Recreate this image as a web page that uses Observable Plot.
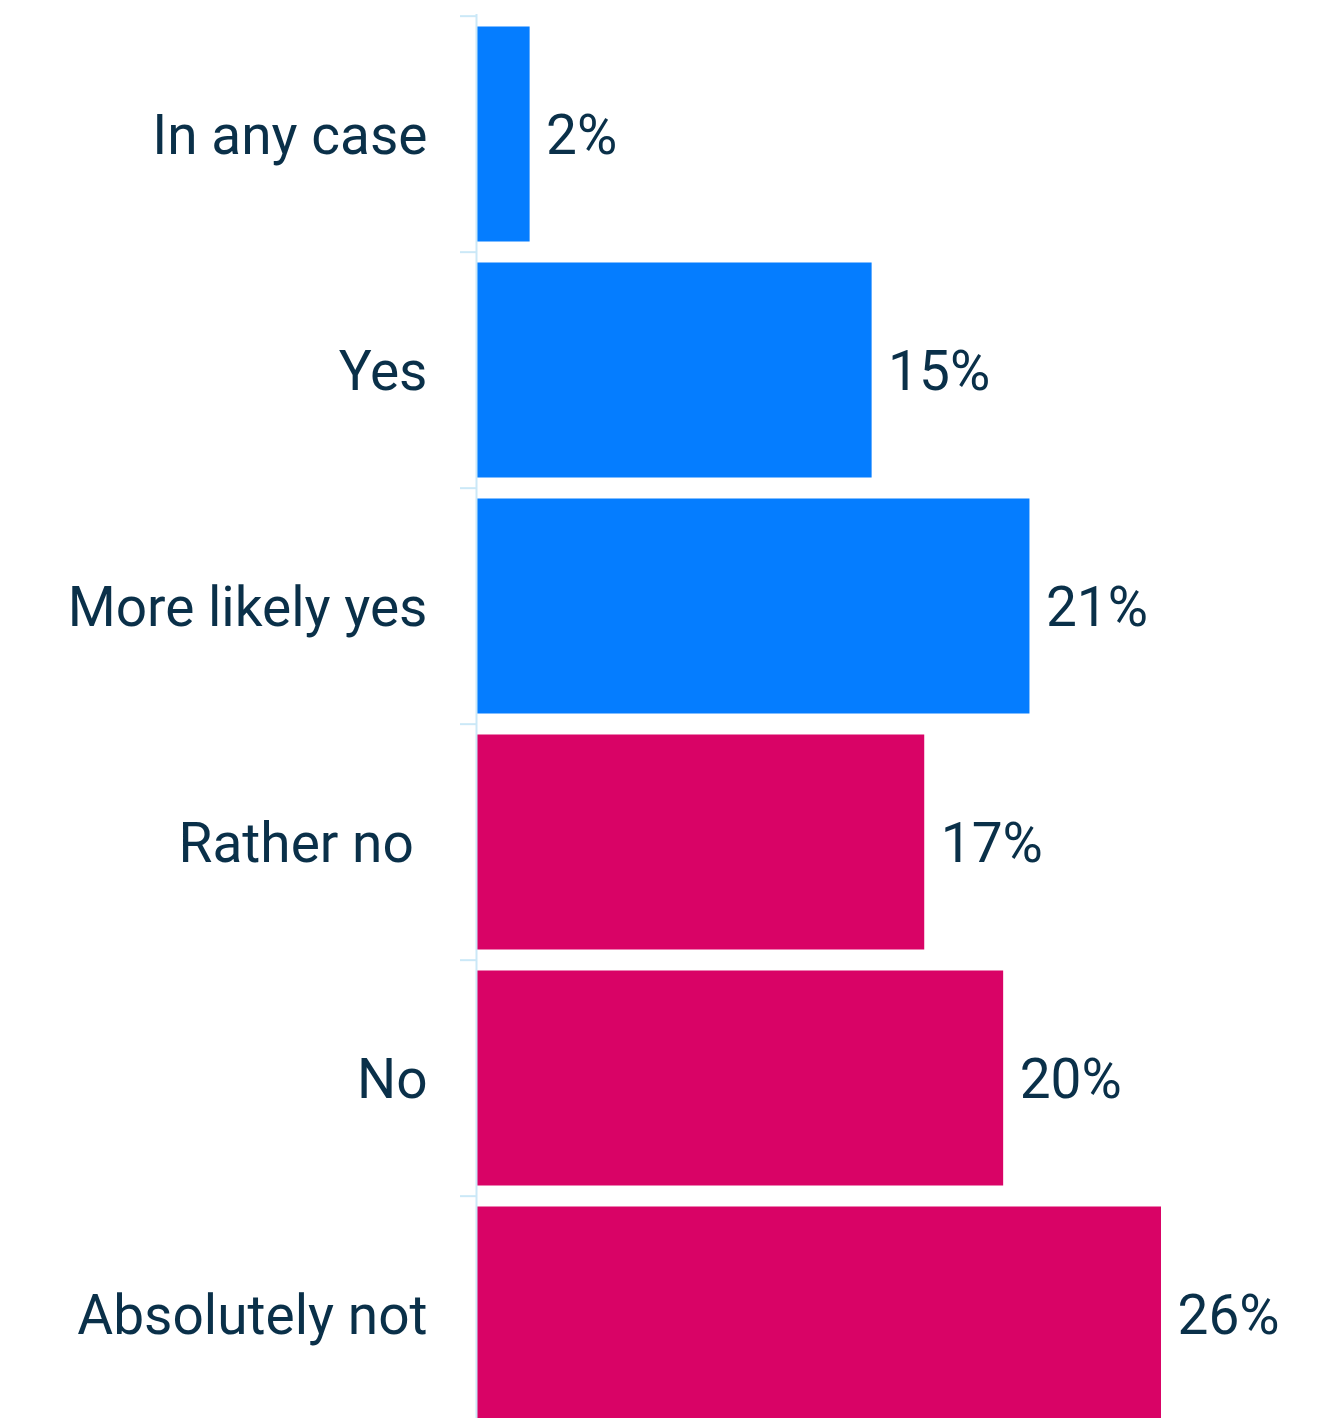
<!DOCTYPE html>
<html>
<head>
<meta charset="utf-8">
<script src="https://cdn.jsdelivr.net/npm/d3@7"></script>
<script src="https://cdn.jsdelivr.net/npm/@observablehq/plot@0.6"></script>
<style>
  html, body { margin: 0; padding: 0; background: #fff; }
  #chart svg { display: block; }
</style>
</head>
<body>
<div id="chart"></div>
<script>
const categories = ["In any case", "Yes", "More likely yes", "Rather no\u00a0", "No", "Absolutely not"];
const values = [2, 15, 21, 17, 20, 26];
const groups = ["yes", "yes", "yes", "no", "no", "no"];

const data = categories.map((c, i) => ({category: c, value: values[i], group: groups[i]}));

const W = 1327, H = 1418, mTop = 14, mBottom = -16;
const bandStep = (H - mBottom - mTop) / categories.length;

const chart = Plot.plot({
  width: W,
  height: H,
  marginLeft: 477,
  marginRight: 166,
  marginTop: mTop,
  marginBottom: mBottom,
  style: {fontFamily: "Roboto, 'Noto Sans', sans-serif", color: "#0a3049", background: "#fff"},
  x: {domain: [0, 26], axis: null},
  y: {domain: categories, padding: 0, axis: null, label: null},
  color: {domain: ["yes", "no"], range: ["#057dff", "#d90366"]},
  marks: [
    Plot.barX(data, {y: "category", x: "value", fill: "group", insetTop: 10.5, insetBottom: 10.5}),
    Plot.ruleX([0], {stroke: "#cbe8f7", strokeWidth: 2, dx: -1}),
    Plot.axisY({tickSize: 17, text: null, label: null, dy: -bandStep / 2, stroke: "#cbe8f7", strokeWidth: 2, tickPadding: 0}),
    Plot.text(data, {y: "category", x: 0, text: "category", textAnchor: "end", dx: -50, dy: 2, fontSize: 55, fill: "#0a3049"}),
    Plot.text(data, {y: "category", x: "value", text: d => d.value + "%", textAnchor: "start", dx: 16, dy: 2, fontSize: 55, fill: "#0a3049"})
  ]
});
document.getElementById("chart").appendChild(chart);
</script>
</body>
</html>
